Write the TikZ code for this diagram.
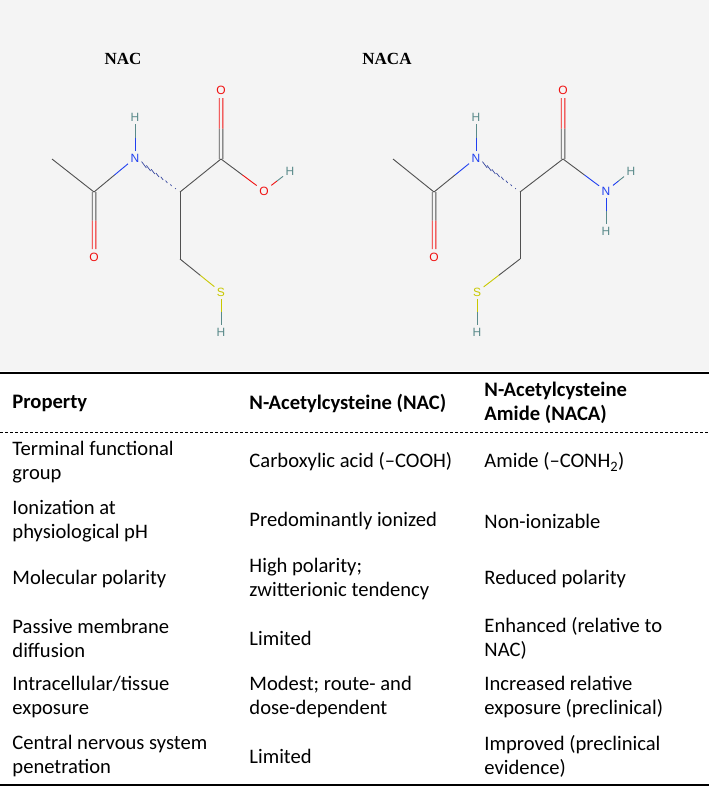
\documentclass[tikz,border=0pt]{standalone}
\usepackage{fontspec}
\setmainfont{Carlito}
\newfontfamily\atomf{Liberation Sans}
\newfontfamily\titf{Liberation Serif}
\usetikzlibrary{calc}
\definecolor{cN}{HTML}{2040F0}
\definecolor{cO}{HTML}{F01010}
\definecolor{cS}{HTML}{C8C800}
\definecolor{cH}{HTML}{5A8A8A}
\definecolor{cC}{HTML}{505050}
\definecolor{bg}{HTML}{F4F4F4}
\newcommand{\bnd}[4]{\draw[#3] (#1) -- ($(#1)!0.5!(#2)$); \draw[#4] ($(#1)!0.5!(#2)$) -- (#2);}
\newcommand{\dbnd}[4]{%
 \foreach \s in {-1.8,1.8}{\draw[#3] ([xshift=\s]#1) -- ($([xshift=\s]#1)!0.5!([xshift=\s]#2.center)$);
 \draw[#4] ($([xshift=\s]#1)!0.5!([xshift=\s]#2.center)$) -- ([xshift=\s]#2.center) ++(0,0);}}
\begin{document}
\begin{tikzpicture}[x=1pt,y=-1pt,line width=0.9pt,
  atom/.style={font=\atomf\fontsize{12}{12}\selectfont,inner sep=2.2pt},
  tit/.style={font=\titf\bfseries\fontsize{17}{17}\selectfont},
  cell/.style={anchor=west,align=left,inner sep=0pt,font=\fontsize{20.6}{24}\selectfont},
  hcell/.style={cell,font=\bfseries\fontsize{20.6}{24}\selectfont}]
\useasboundingbox (0,0) rectangle (709,788);
\fill[bg] (0,0) rectangle (709,371);
\fill[white] (0,371) rectangle (709,788);
\node[tit] (t1) at (123,59) {NAC};
\node[tit] (t2) at (387,59) {NACA};
% NAC
\coordinate (a1) at (52,159); \coordinate (a2) at (94,192); \coordinate (a3) at (180,192);
\coordinate (a4) at (221,159); \coordinate (a5) at (180,259);
\coordinate (aO1e) at (94,249); \coordinate (aO2e) at (221,98);
\coordinate (bO1e) at (434,249); \coordinate (bO2e) at (563,98);
\node[atom,text=cO] (aO1) at (94,257) {O};
\node[atom,text=cN] (aN) at (135,158) {N};
\node[atom,text=cH] (aHN) at (135,117) {H};
\node[atom,text=cO] (aO2) at (221,90) {O};
\node[atom,text=cO] (aO3) at (264,191) {O};
\node[atom,text=cH] (aHO) at (290,171) {H};
\node[atom,text=cS] (aS) at (221,292) {S};
\node[atom,text=cH] (aHS) at (221,332) {H};
\draw[cC] (a1) -- (a2);
\bnd{a2}{aN}{cC}{cN}
\bnd{aN}{aHN}{cN}{cH}
\dbnd{a2}{aO1e}{cC}{cO}
\dbnd{a4}{aO2e}{cC}{cO}
\draw[cC] (a3) -- (a4); \draw[cC] (a3) -- (a5);
\bnd{a4}{aO3}{cC}{cO}
\bnd{aO3}{aHO}{cO}{cH}
\bnd{a5}{aS}{cC}{cS}
\bnd{aS}{aHS}{cS}{cH}
\foreach \t in {0.1,0.2,...,0.81}{
  \draw[line width=0.7pt,cC!50!cN] ($(a3)!\t!(aN)+(0.602*\t*5,0.798*\t*5)$) -- ($(a3)!\t!(aN)-(0.602*\t*5,0.798*\t*5)$);}
% NACA
\coordinate (b1) at (393,159); \coordinate (b2) at (434,192); \coordinate (b3) at (520,192);
\coordinate (b4) at (563,159); \coordinate (b5) at (520,259);
\node[atom,text=cO] (bO1) at (434,257) {O};
\node[atom,text=cN] (bN) at (476,158) {N};
\node[atom,text=cH] (bHN) at (476,117) {H};
\node[atom,text=cO] (bO2) at (563,90) {O};
\node[atom,text=cN] (bN2) at (606,191) {N};
\node[atom,text=cH] (bH1) at (631,171) {H};
\node[atom,text=cH] (bH2) at (606,231) {H};
\node[atom,text=cS] (bS) at (477,292) {S};
\node[atom,text=cH] (bHS) at (477,332) {H};
\draw[cC] (b1) -- (b2);
\bnd{b2}{bN}{cC}{cN}
\bnd{bN}{bHN}{cN}{cH}
\dbnd{b2}{bO1e}{cC}{cO}
\dbnd{b4}{bO2e}{cC}{cO}
\draw[cC] (b3) -- (b4); \draw[cC] (b3) -- (b5);
\bnd{b4}{bN2}{cC}{cN}
\bnd{bN2}{bH1}{cN}{cH}
\bnd{bN2}{bH2}{cN}{cH}
\bnd{b5}{bS}{cC}{cS}
\bnd{bS}{bHS}{cS}{cH}
\foreach \t in {0.1,0.2,...,0.81}{
  \draw[line width=0.7pt,cC!50!cN] ($(b3)!\t!(bN)+(0.602*\t*5,0.798*\t*5)$) -- ($(b3)!\t!(bN)-(0.602*\t*5,0.798*\t*5)$);}
% table
\coordinate (tl) at (0,373); \coordinate (tr) at (709,373);
\coordinate (dl) at (0,432); \coordinate (dr) at (709,432);
\coordinate (bl) at (0,785); \coordinate (br) at (709,785);
\draw[line width=1.5pt] (tl) -- (tr);
\draw[line width=0.8pt,dash pattern=on 3pt off 2pt] (dl) -- (dr);
\draw[line width=1.5pt] (bl) -- (br);
\node[hcell] (h1) at (12,403) {Property};
\node[hcell] (h2) at (249,403) {N-Acetylcysteine (NAC)};
\node[hcell] (h3) at (484,403) {N-Acetylcysteine\\Amide (NACA)};
\node[cell] (r11) at (12,462) {Terminal functional\\group};
\node[cell] (r12) at (249,462) {Carboxylic acid (–COOH)};
\node[cell] (r13) at (484,462) {Amide (–CONH\textsubscript{2})};
\node[cell] (r21) at (12,521) {Ionization at\\physiological pH};
\node[cell] (r22) at (249,521) {Predominantly ionized};
\node[cell] (r23) at (484,521) {Non-ionizable};
\node[cell] (r31) at (12,579) {Molecular polarity};
\node[cell] (r32) at (249,579) {High polarity;\\zwitterionic tendency};
\node[cell] (r33) at (484,579) {Reduced polarity};
\node[cell] (r41) at (12,638) {Passive membrane\\diffusion};
\node[cell] (r42) at (249,638) {Limited};
\node[cell] (r43) at (484,638) {Enhanced (relative to\\NAC)};
\node[cell] (r51) at (12,697) {Intracellular/tissue\\exposure};
\node[cell] (r52) at (249,697) {Modest; route- and\\dose-dependent};
\node[cell] (r53) at (484,697) {Increased relative\\exposure (preclinical)};
\node[cell] (r61) at (12,756) {Central nervous system\\penetration};
\node[cell] (r62) at (249,756) {Limited};
\node[cell] (r63) at (484,756) {Improved (preclinical\\evidence)};
\end{tikzpicture}
\end{document}
